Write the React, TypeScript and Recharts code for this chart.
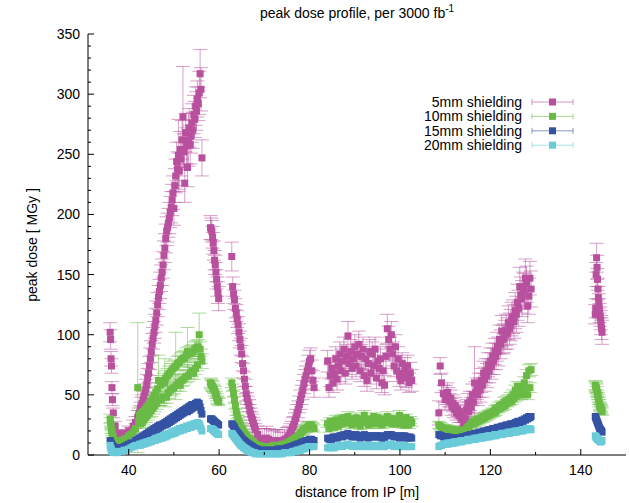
import React from 'react';
import { ScatterChart, Scatter, XAxis, YAxis, ErrorBar, Legend } from 'recharts';

// distance from IP [m], shared by all four shieldings
const distance = [
  // A
  35.9, 36.0, 36.1, 36.2, 36.3, 36.4, 36.6,
  37.0, 37.5, 38.0, 38.5, 39.0, 39.5, 40.0, 40.5, 41.0, 41.5,
  42.0, 42.2, 42.4, 42.6, 42.8, 43.0, 43.2, 43.4, 43.6, 43.8,
  44.0, 44.2, 44.4, 44.6, 44.8, 45.0, 45.2, 45.4, 45.6, 45.8,
  46.0, 46.2, 46.4, 46.6, 46.8, 47.0, 47.2, 47.4, 47.6, 47.8,
  48.0, 48.2, 48.4, 48.6, 48.8, 49.0, 49.2, 49.4, 49.6, 49.8,
  50.0, 50.2, 50.4, 50.6, 50.8, 51.0, 51.2, 51.4, 51.6, 51.8,
  52.0, 52.2, 52.4, 52.6, 52.8, 53.0, 53.2, 53.4, 53.6, 53.8,
  54.0, 54.2, 54.4, 54.6, 54.8, 55.0, 55.2, 55.4, 55.6, 55.8,
  56.0, 56.2,
  // B
  58.1, 58.25, 58.4, 58.55, 58.7, 58.85, 59.0, 59.15, 59.3, 59.45, 59.6, 59.75, 59.9,
  // C
  62.8, 63.0, 63.2, 63.4, 63.6, 63.8, 64.0, 64.2, 64.4, 64.6,
  64.8, 65.0, 65.2, 65.4, 65.6, 65.8, 66.0, 66.2, 66.4, 66.6,
  66.8, 67.0, 67.2, 67.4, 67.6, 67.8, 68.0,
  68.5, 69.0, 69.5, 70.0, 70.5, 71.0, 71.5, 72.0, 72.5, 73.0, 73.5, 74.0, 74.5, 75.0,
  75.25, 75.5, 75.75, 76.0, 76.25, 76.5, 76.75, 77.0, 77.25, 77.5,
  77.75, 78.0, 78.25, 78.5, 78.75, 79.0, 79.25, 79.5, 79.75, 80.0,
  80.25, 80.5, 80.75, 81.0,
  // D
  84.0, 84.3, 84.6, 84.9, 85.2, 85.5, 85.8, 86.1, 86.4, 86.7,
  87.0, 87.3, 87.6, 87.9, 88.2, 88.5, 88.8, 89.1, 89.4, 89.7,
  90.0, 90.3, 90.6, 90.9, 91.2, 91.5, 91.8, 92.1, 92.4, 92.7,
  93.0, 93.3, 93.6, 93.9, 94.2, 94.5, 94.8, 95.1, 95.4, 95.7,
  96.0, 96.3, 96.6, 96.9, 97.2, 97.5, 97.8, 98.1, 98.4, 98.7,
  99.0, 99.3, 99.6, 99.9, 100.2, 100.5, 100.8, 101.1, 101.4, 101.7,
  102.0, 102.3, 102.6,
  // E
  108.6, 108.9, 109.2, 109.6,
  110.0, 110.25, 110.5, 110.75, 111.0, 111.25, 111.5, 111.75, 112.0, 112.25,
  112.5, 112.75, 113.0, 113.25, 113.5, 113.75, 114.0, 114.25, 114.5, 114.75,
  115.0, 115.25, 115.5, 115.75, 116.0, 116.25, 116.5, 116.75, 117.0, 117.25,
  117.5, 117.75, 118.0, 118.25, 118.5, 118.75, 119.0, 119.25, 119.5, 119.75,
  120.0, 120.25, 120.5, 120.75, 121.0, 121.25, 121.5, 121.75, 122.0, 122.25,
  122.5, 122.75, 123.0, 123.25, 123.5, 123.75, 124.0, 124.25, 124.5, 124.75,
  125.0, 125.25, 125.5, 125.75, 126.0, 126.25, 126.5, 126.75, 127.0, 127.25,
  127.5, 127.75, 128.0, 128.25, 128.5, 128.75, 129.0,
  // F
  143.2, 143.3, 143.4, 143.5, 143.6, 143.7, 143.8, 143.9, 144.0, 144.1,
  144.2, 144.3, 144.4, 144.5, 144.6, 144.7,
];

const dose5mm = [
  102, 96, 80, 74, 56, 46, 35,
  24, 18, 17, 15, 18, 16, 20, 19, 24, 27,
  31, 33, 35, 38, 41, 43, 46, 49, 52, 55,
  59, 64, 68, 74, 80, 86, 92, 97, 102, 107,
  112, 118, 125, 131, 136, 141, 147, 152, 158, 166,
  172, 180, 186, 189, 193, 197, 202, 206, 212, 218,
  205, 224, 232, 244, 238, 249, 236, 254, 246, 262,
  281, 252, 226, 268, 257, 239, 262, 272, 258, 265,
  276, 270, 283, 279, 290, 286, 296, 292, 301, 317,
  304, 247,
  189, 188, 186, 181, 176, 170, 162, 158, 152, 146, 140, 135, 130,
  165, 140, 134, 129, 122, 118, 113, 108, 102, 96,
  90, 84, 76, 70, 63, 57, 51, 47, 44, 41,
  37, 34, 31, 29, 26, 24, 21,
  17, 14, 13, 12, 14, 13, 11, 10, 12, 12, 10, 11, 13, 14,
  15, 16, 18, 20, 23, 25, 28, 31, 35, 38,
  42, 46, 50, 54, 59, 63, 66, 70, 74, 78,
  80, 70, 62, 56,
  78, 56, 66, 72, 60, 68, 80, 63, 74, 84,
  70, 78, 88, 68, 82, 99, 76, 86, 72, 80,
  90, 74, 84, 92, 70, 82, 88, 66, 80, 62,
  76, 86, 68, 84, 74, 88, 64, 78, 72, 80,
  60, 70, 58, 82, 105, 96, 88, 100, 84, 74,
  90, 70, 80, 66, 62, 76, 68, 72, 64, 74,
  60, 68, 62,
  35, 74, 60, 51,
  46, 50, 52, 48, 44, 47, 40, 43, 38, 41,
  35, 38, 33, 36, 30, 33, 27, 25, 30, 38,
  43, 36, 45, 40, 50, 44, 60, 52, 55, 50,
  58, 54, 62, 58, 68, 63, 70, 66, 75, 70,
  78, 74, 82, 78, 86, 82, 90, 86, 96, 92,
  103, 96, 97, 100, 104, 101, 110, 105, 108, 113,
  115, 111, 120, 117, 127, 122, 140, 133, 130, 137,
  136, 147, 142, 124, 132, 147, 138,
  117, 122, 150, 164, 156, 146, 138, 131, 126, 122,
  118, 115, 112, 108, 105, 102,
];

const err5mm = [
  8, 8, 6, 6, 5, 5, 4,
  4, 3, 3, 3, 3, 3, 4, 4, 5, 5,
  6, 6, 6, 6, 7, 7, 7, 7, 7, 8,
  8, 8, 8, 8, 9, 9, 9, 9, 9, 10,
  10, 10, 10, 10, 10, 11, 11, 11, 11, 12,
  12, 12, 12, 12, 12, 13, 13, 13, 13, 14,
  14, 14, 14, 16, 14, 30, 15, 15, 14, 16,
  42, 15, 16, 16, 15, 16, 22, 16, 16, 14,
  16, 15, 16, 15, 16, 16, 15, 14, 18, 20,
  18, 15,
  10, 9, 9, 9, 9, 8, 8, 8, 8, 8, 8, 9, 10,
  12, 8, 8, 8, 8, 7, 7, 7, 7, 7,
  7, 7, 6, 6, 6, 6, 6, 5, 5, 5,
  5, 5, 5, 5, 5, 5, 5,
  7, 8, 9, 10, 10, 9, 10, 10, 9, 9, 9, 8, 8, 9,
  8, 8, 8, 8, 8, 7, 7, 7, 7, 7,
  7, 8, 8, 8, 8, 8, 8, 8, 9, 9,
  9, 9, 8, 8,
  9, 8, 9, 9, 8, 9, 10, 9, 9, 10,
  9, 10, 10, 9, 10, 12, 9, 10, 9, 10,
  10, 9, 10, 11, 9, 10, 10, 9, 10, 9,
  10, 10, 9, 10, 9, 10, 9, 10, 9, 10,
  8, 9, 8, 10, 12, 11, 10, 11, 10, 9,
  10, 9, 10, 9, 8, 9, 9, 9, 8, 9,
  8, 9, 9,
  10, 7, 8, 7,
  8, 8, 8, 8, 7, 7, 7, 7, 7, 7,
  6, 6, 6, 6, 6, 6, 6, 6, 6, 8,
  8, 8, 8, 8, 9, 9, 30, 9, 9, 9,
  10, 10, 10, 10, 10, 10, 10, 10, 10, 10,
  11, 11, 11, 11, 11, 11, 12, 12, 12, 12,
  13, 12, 12, 12, 13, 13, 14, 13, 13, 14,
  14, 14, 15, 15, 15, 15, 16, 15, 15, 15,
  15, 16, 15, 14, 15, 14, 15,
  8, 8, 10, 12, 10, 9, 9, 9, 8, 8,
  8, 8, 8, 8, 9, 10,
];

const dose10mm = [
  30, 27, 24, 21, 19, 17, 15,
  12, 11, 12, 11, 13, 14, 16, 17, 19, 22,
  56, 28, 33, 26, 35, 27, 36, 29, 38, 31,
  40, 33, 42, 35, 45, 37, 47, 39, 50, 41,
  52, 43, 55, 62, 46, 58, 46, 60, 48, 62,
  60, 64, 48, 66, 52, 68, 54, 70, 55, 72,
  56, 73, 74, 58, 76, 60, 77, 58, 79, 62,
  80, 63, 81, 65, 83, 86, 66, 84, 68, 85,
  70, 86, 68, 88, 72, 89, 75, 90, 100, 88,
  82, 78,
  60, 59, 58, 57, 56, 55, 54, 52, 50, 48, 46, 45, 44,
  60, 56, 51, 46, 41, 36, 33, 30, 28, 26,
  24, 22, 21, 19, 18, 17, 16, 15, 14, 13,
  13, 12, 12, 11, 10, 10, 9,
  8, 8, 7, 7, 7, 7, 7, 8, 8, 8, 8, 9, 9, 10,
  10, 11, 11, 12, 12, 13, 14, 14, 15, 16,
  17, 18, 19, 20, 21, 22, 22, 23, 24, 25,
  25, 24, 23, 22,
  26, 22, 28, 25, 27, 23, 29, 26, 24, 28,
  30, 26, 31, 27, 29, 32, 27, 30, 25, 29,
  27, 31, 26, 28, 24, 30, 28, 33, 27, 29,
  25, 28, 30, 26, 32, 29, 27, 31, 26, 28,
  25, 28, 30, 27, 32, 29, 27, 30, 26, 28,
  30, 26, 28, 33, 27, 30, 25, 28, 31, 27,
  25, 29, 27,
  25, 24, 23, 22,
  22, 21, 22, 21, 21, 20, 21, 20, 20, 19,
  20, 19, 20, 19, 19, 20, 19, 20, 21, 22,
  23, 24, 25, 26, 27, 26, 28, 27, 29, 28,
  30, 29, 31, 30, 32, 31, 33, 32, 34, 33,
  35, 34, 36, 35, 38, 36, 39, 38, 41, 39,
  42, 40, 44, 41, 45, 43, 46, 44, 48, 45,
  50, 47, 54, 49, 57, 51, 56, 50, 55, 52,
  60, 54, 66, 50, 70, 56, 71,
  58, 57, 56, 55, 53, 51, 49, 47, 45, 43,
  41, 40, 39, 38, 37, 36,
];

const err10mm = [
  4, 4, 3, 3, 3, 3, 3,
  3, 3, 3, 3, 3, 3, 3, 3, 3, 4,
  54, 4, 4, 4, 5, 4, 5, 4, 5, 4,
  5, 4, 5, 4, 5, 5, 5, 5, 5, 5,
  5, 5, 5, 21, 5, 6, 5, 6, 5, 6,
  20, 6, 5, 6, 5, 6, 5, 6, 5, 6,
  5, 6, 28, 5, 6, 5, 6, 5, 6, 5,
  6, 5, 6, 5, 6, 20, 5, 6, 5, 6,
  5, 6, 5, 6, 5, 6, 5, 6, 18, 6,
  6, 6,
  4, 4, 4, 4, 3, 3, 3, 3, 3, 3, 3, 3, 3,
  4, 3, 3, 3, 3, 3, 3, 3, 3, 3,
  3, 3, 3, 3, 2, 2, 2, 2, 2, 2,
  2, 2, 2, 2, 2, 2, 2,
  2, 2, 2, 2, 2, 2, 2, 2, 2, 2, 2, 2, 2, 2,
  2, 2, 2, 2, 2, 2, 2, 2, 3, 3,
  3, 3, 3, 3, 3, 3, 3, 3, 3, 3,
  3, 3, 3, 3,
  3, 3, 3, 3, 3, 3, 4, 3, 3, 4,
  3, 3, 3, 3, 3, 4, 3, 3, 3, 3,
  3, 4, 3, 3, 3, 3, 3, 4, 3, 3,
  3, 3, 3, 4, 3, 3, 3, 3, 3, 3,
  3, 3, 3, 3, 4, 3, 3, 4, 3, 3,
  3, 3, 3, 4, 3, 3, 3, 3, 3, 3,
  3, 3, 3,
  3, 3, 3, 3,
  3, 3, 3, 3, 3, 3, 3, 3, 3, 3,
  3, 3, 3, 3, 3, 3, 3, 3, 3, 3,
  3, 3, 3, 3, 3, 3, 3, 3, 3, 3,
  3, 3, 3, 3, 3, 3, 3, 3, 3, 3,
  3, 3, 3, 3, 3, 3, 3, 3, 3, 3,
  3, 3, 4, 3, 4, 3, 4, 3, 4, 3,
  4, 3, 4, 4, 4, 4, 4, 4, 4, 4,
  5, 4, 5, 4, 5, 4, 5,
  4, 4, 4, 4, 4, 3, 3, 3, 3, 3,
  3, 3, 3, 3, 3, 3,
];

const dose15mm = [
  12, 11, 10, 9, 8, 8, 7,
  6, 6, 6, 6, 7, 8, 9, 10, 10, 12,
  13, 12, 14, 13, 15, 14, 16, 15, 17, 16,
  18, 17, 19, 18, 20, 19, 21, 19, 22, 20,
  23, 21, 24, 22, 25, 23, 25, 24, 26, 25,
  27, 25, 28, 26, 29, 27, 30, 28, 31, 29,
  32, 30, 33, 31, 34, 32, 35, 33, 36, 34,
  37, 35, 38, 36, 39, 36, 40, 37, 41, 38,
  42, 39, 42, 40, 43, 41, 44, 41, 43, 40,
  37, 34,
  30, 30, 30, 29, 29, 28, 28, 27, 27, 26, 26, 25, 25,
  26, 25, 24, 23, 21, 20, 19, 18, 17, 16,
  15, 14, 13, 12, 12, 11, 10, 10, 9, 9,
  8, 8, 7, 7, 6, 6, 5,
  5, 4, 4, 4, 4, 4, 4, 4, 4, 5, 5, 5, 5, 6,
  6, 6, 7, 7, 7, 8, 8, 8, 9, 9,
  9, 10, 10, 11, 11, 11, 12, 12, 12, 13,
  13, 13, 12, 12,
  14, 13, 14, 13, 15, 14, 15, 14, 15, 16,
  16, 15, 17, 16, 17, 18, 16, 17, 15, 16,
  15, 17, 16, 15, 14, 16, 15, 17, 15, 16,
  14, 16, 15, 16, 15, 16, 15, 16, 15, 16,
  14, 15, 14, 16, 17, 17, 16, 17, 16, 15,
  16, 15, 16, 14, 15, 16, 15, 16, 14, 15,
  14, 15, 14,
  17, 16, 16, 15,
  15, 15, 14, 15, 14, 14, 14, 13, 14, 14,
  14, 13, 14, 14, 14, 15, 15, 15, 15, 16,
  16, 16, 17, 16, 17, 17, 18, 17, 18, 18,
  19, 18, 19, 19, 20, 19, 20, 20, 21, 20,
  21, 21, 22, 21, 22, 22, 23, 22, 23, 23,
  24, 23, 24, 24, 25, 24, 25, 25, 26, 25,
  26, 26, 27, 26, 28, 27, 28, 27, 29, 28,
  30, 29, 31, 30, 32, 31, 32,
  32, 31, 30, 29, 28, 27, 26, 25, 24, 23,
  22, 21, 21, 20, 20, 19,
];

const dose20mm = [
  8, 6, 5, 4, 3, 3, 2,
  2, 2, 3, 3, 4, 4, 5, 6, 7, 8,
  8, 8, 9, 8, 9, 9, 10, 9, 10, 10,
  11, 10, 11, 11, 12, 11, 12, 12, 13, 12,
  14, 13, 14, 13, 15, 14, 15, 14, 16, 15,
  17, 15, 17, 16, 18, 17, 18, 17, 19, 18,
  20, 18, 20, 19, 21, 20, 22, 20, 22, 21,
  23, 21, 23, 22, 24, 22, 24, 23, 25, 23,
  25, 24, 26, 24, 26, 25, 27, 25, 26, 24,
  22, 20,
  22, 22, 22, 21, 21, 20, 20, 19, 19, 18, 18, 17, 17,
  18, 17, 16, 15, 14, 13, 12, 11, 10, 9,
  8, 8, 7, 6, 6, 5, 5, 4, 4, 3,
  3, 3, 2, 2, 2, 2, 1,
  1, 1, 1, 1, 1, 1, 1, 1, 1, 1, 1, 1, 2, 2,
  2, 2, 2, 2, 3, 3, 3, 3, 4, 4,
  4, 4, 5, 5, 5, 6, 6, 6, 7, 7,
  7, 7, 7, 7,
  6, 6, 7, 6, 7, 6, 7, 7, 7, 8,
  8, 7, 8, 8, 8, 9, 8, 8, 7, 8,
  7, 8, 7, 8, 7, 8, 7, 8, 7, 8,
  7, 8, 7, 8, 7, 8, 7, 8, 7, 8,
  7, 7, 7, 8, 8, 9, 8, 9, 8, 7,
  8, 7, 8, 7, 7, 8, 7, 8, 7, 7,
  7, 7, 7,
  7, 8, 8, 9,
  9, 9, 10, 9, 10, 10, 10, 10, 11, 10,
  11, 11, 11, 11, 12, 11, 12, 12, 12, 12,
  13, 12, 13, 13, 13, 13, 14, 13, 14, 14,
  14, 14, 15, 14, 15, 15, 15, 15, 16, 15,
  16, 16, 16, 16, 17, 16, 17, 17, 17, 17,
  18, 17, 18, 18, 18, 18, 19, 18, 19, 19,
  19, 19, 20, 19, 20, 20, 20, 20, 21, 20,
  21, 21, 22, 21, 22, 22, 21,
  16, 15, 15, 14, 14, 13, 13, 13, 12, 12,
  12, 11, 11, 11, 12, 12,
];

const xTicks = [40, 50, 60, 70, 80, 90, 100, 110, 120, 130, 140];
const yTicks = [
  0, 10, 20, 30, 40, 50, 60, 70, 80, 90, 100, 110, 120, 130, 140, 150, 160, 170,
  180, 190, 200, 210, 220, 230, 240, 250, 260, 270, 280, 290, 300, 310, 320, 330, 340, 350,
];

const series = [
  { name: '5mm shielding', color: '#b8509e', dose: dose5mm, err: err5mm },
  { name: '10mm shielding', color: '#6abb46', dose: dose10mm, err: err10mm },
  { name: '15mm shielding', color: '#3553a4', dose: dose15mm, err: null },
  { name: '20mm shielding', color: '#6acbd9', dose: dose20mm, err: null },
];

const PLOT = { left: 88, right: 626, top: 34, bottom: 455 };
const FONT = '"Liberation Sans", Arial, Helvetica, sans-serif';

const BottomTick = (props: any) => {
  const { x, payload } = props;
  const major = payload.value % 20 === 0;
  return (
    <g>
      <line x1={x} x2={x} y1={PLOT.bottom} y2={PLOT.bottom - (major ? 6 : 3)} stroke="#000" />
      {major && (
        <text x={x} y={PLOT.bottom + 20} textAnchor="middle" fontSize={14} fontFamily={FONT} fill="#000">
          {payload.value}
        </text>
      )}
    </g>
  );
};

const TopTick = (props: any) => {
  const { x, payload } = props;
  const major = payload.value % 20 === 0;
  return <line x1={x} x2={x} y1={PLOT.top} y2={PLOT.top + (major ? 6 : 3)} stroke="#000" />;
};

const LeftTick = (props: any) => {
  const { y, payload } = props;
  const major = payload.value % 50 === 0;
  return (
    <g>
      <line x1={PLOT.left} x2={PLOT.left + (major ? 6 : 3)} y1={y} y2={y} stroke="#000" />
      {major && (
        <text x={80} y={y + 5} textAnchor="end" fontSize={14} fontFamily={FONT} fill="#000">
          {payload.value}
        </text>
      )}
    </g>
  );
};

const RightTick = (props: any) => {
  const { y, payload } = props;
  const major = payload.value % 50 === 0;
  return <line x1={PLOT.right} x2={PLOT.right - (major ? 6 : 3)} y1={y} y2={y} stroke="#000" />;
};

// legend keeps the plotting order (recharts sorts by name otherwise)
const KeyBox = () => (
  <svg width={180} height={62}>
    {series.map((s, i) => {
      const cy = 8 + i * 14.4;
      return (
        <g key={s.name}>
          <text x={122} y={cy + 5} textAnchor="end" fontSize={14} fontFamily={FONT} fill="#000">
            {s.name}
          </text>
          <line x1={132} x2={173} y1={cy} y2={cy} stroke={s.color} strokeOpacity={0.6} />
          <line x1={132} x2={132} y1={cy - 3} y2={cy + 3} stroke={s.color} strokeOpacity={0.6} />
          <line x1={173} x2={173} y1={cy - 3} y2={cy + 3} stroke={s.color} strokeOpacity={0.6} />
          <rect x={149} y={cy - 3.5} width={7} height={7} fill={s.color} />
        </g>
      );
    })}
  </svg>
);

export default function App() {
  return (
    <div style={{ position: 'absolute', left: 0, top: 0, width: 630, height: 503, background: '#fff', fontFamily: FONT }}>
      <div style={{ position: 'absolute', left: PLOT.left, top: 4, width: PLOT.right - PLOT.left, textAlign: 'center', fontSize: 14, lineHeight: '18px', color: '#000' }}>
        peak dose profile, per 3000 fb<sup style={{ fontSize: 10, lineHeight: 0 }}>-1</sup>
      </div>
      <div style={{ position: 'absolute', left: 32, top: 245, transform: 'translate(-50%, -50%) rotate(-90deg)', whiteSpace: 'nowrap', fontSize: 14, color: '#000' }}>
        peak dose [ MGy ]
      </div>
      <div style={{ position: 'absolute', left: 357, top: 492, transform: 'translate(-50%, -50%)', whiteSpace: 'nowrap', fontSize: 14, color: '#000' }}>
        distance from IP [m]
      </div>
      <ScatterChart width={630} height={503} margin={{ top: 34, right: 4, bottom: 18, left: 28 }}>
        <XAxis
          type="number"
          dataKey="x"
          domain={[31, 150]}
          ticks={xTicks}
          interval={0}
          height={30}
          tickLine={false}
          axisLine={{ stroke: '#000' }}
          tick={BottomTick}
        />
        <XAxis
          xAxisId="top"
          orientation="top"
          type="number"
          domain={[31, 150]}
          ticks={xTicks}
          interval={0}
          height={0}
          tickLine={false}
          axisLine={{ stroke: '#000' }}
          tick={TopTick}
        />
        <YAxis
          type="number"
          dataKey="y"
          domain={[0, 350]}
          ticks={yTicks}
          interval={0}
          width={60}
          tickLine={false}
          axisLine={{ stroke: '#000' }}
          tick={LeftTick}
        />
        <YAxis
          yAxisId="right"
          orientation="right"
          type="number"
          domain={[0, 350]}
          ticks={yTicks}
          interval={0}
          width={0}
          tickLine={false}
          axisLine={{ stroke: '#000' }}
          tick={RightTick}
        />
        <Legend
          layout="vertical"
          align="center"
          verticalAlign="middle"
          content={KeyBox}
          wrapperStyle={{ position: 'absolute', left: 400, top: 94, width: 180, height: 62 }}
        />
        {series.map((s) => {
          const pts = distance
            .map((d, i) => ({ x: d, y: s.dose[i], err: s.err ? s.err[i] : 0 }))
            .filter((p) => typeof p.y === 'number');
          return (
            <Scatter
              key={s.name}
              name={s.name}
              data={pts}
              fill={s.color}
              isAnimationActive={false}
              shape={(p: any) => <rect x={p.cx - 3.5} y={p.cy - 3.5} width={7} height={7} fill={s.color} />}
            >
              {s.err && (
                <ErrorBar dataKey="err" direction="y" width={7} stroke={s.color} strokeOpacity={0.55} strokeWidth={1} />
              )}
            </Scatter>
          );
        })}
      </ScatterChart>
    </div>
  );
}
